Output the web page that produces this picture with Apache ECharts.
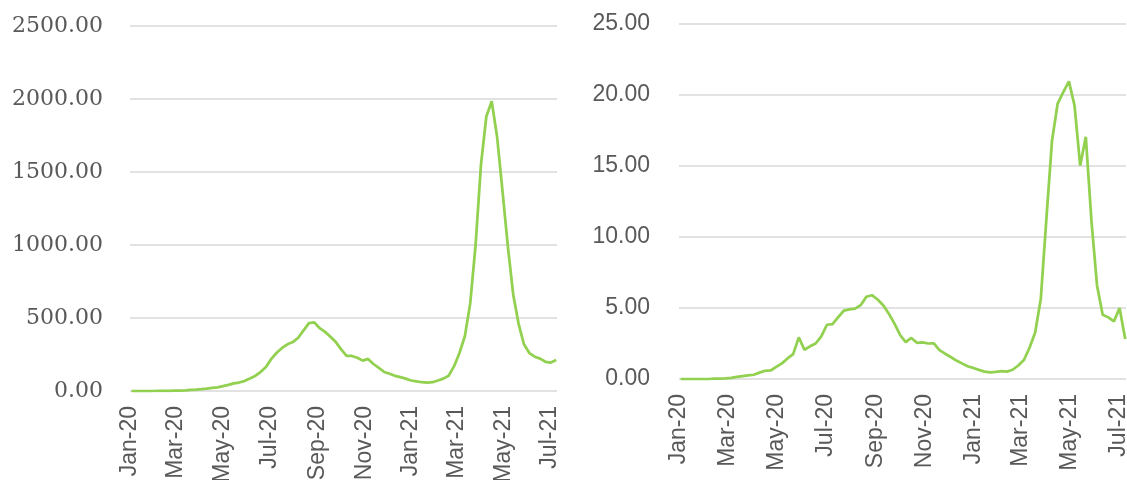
<!DOCTYPE html>
<html>
<head>
<meta charset="utf-8">
<script src="https://cdn.jsdelivr.net/npm/echarts@6/dist/echarts.min.js"></script>
<style>
  html, body { margin: 0; padding: 0; background: #fff; }
  #chart { width: 1127px; height: 480px; }
</style>
</head>
<body>
<div id="chart"></div>
<script>
// x tick labels, placed at the first day of every second month (days since 1 Jan 2020)
const tickLabels = ['Jan-20', 'Mar-20', 'May-20', 'Jul-20', 'Sep-20', 'Nov-20', 'Jan-21', 'Mar-21', 'May-21', 'Jul-21'];
const tickDays = [0, 60, 121, 182, 244, 305, 366, 425, 486, 547];

// weekly observations (day offset from 1 Jan 2020)
const weekDays = [];
for (let k = 0; k < 80; k++) weekDays.push(2 + 7 * k);

// left panel
const leftValues = [
  0, 0, 0, 0, 0, 1, 1, 1, 2, 3,
  5, 8, 10, 13, 17, 22, 25, 33, 42, 52,
  58, 68, 85, 103, 130, 165, 220, 262, 295, 320,
  335, 365, 415, 465, 470, 430, 405, 372, 335, 285,
  240, 240, 228, 208, 220, 185, 158, 130, 118, 104,
  95, 85, 72, 66, 60, 57, 60, 72, 85, 105,
  170, 260, 375, 600, 1000, 1550, 1880, 1985, 1740, 1370,
  990, 660, 460, 320, 260, 235, 222, 200, 195, 212
];
const leftTicks = [0, 500, 1000, 1500, 2000, 2500];

// right panel
const rightValues = [
  0, 0, 0, 0, 0, 0, 0.02, 0.03, 0.05, 0.08,
  0.15, 0.2, 0.25, 0.3, 0.45, 0.58, 0.6, 0.85, 1.1, 1.45,
  1.75, 2.93, 2.06, 2.3, 2.5, 3.0, 3.82, 3.87, 4.35, 4.81,
  4.9, 4.95, 5.2, 5.79, 5.9, 5.6, 5.2, 4.6, 3.9, 3.1,
  2.6, 2.89, 2.55, 2.58, 2.5, 2.51, 2.04, 1.78, 1.55, 1.3,
  1.1, 0.9, 0.78, 0.64, 0.52, 0.47, 0.5, 0.55, 0.52, 0.65,
  0.95, 1.34, 2.2, 3.28, 5.63, 11.3, 16.8, 19.4, 20.2, 20.96,
  19.25, 15.02, 17.06, 11.15, 6.57, 4.53, 4.34, 4.06, 5.0, 2.82
];
const rightTicks = [0, 5, 10, 15, 20, 25];

const lineColor = '#92d050';
const textColor = '#595959';
const gridColor = '#d9d9d9';

function xAxisFor(gridIndex, size) {
  return {
    type: 'value',
    gridIndex: gridIndex,
    min: 0,
    max: 556,
    axisLine: { show: false },
    axisTick: { show: false },
    splitLine: { show: false },
    axisLabel: {
      customValues: tickDays,
      rotate: 90,
      margin: 15,
      color: textColor,
      fontFamily: 'Liberation Sans',
      fontSize: size,
      formatter: function (v) {
        return tickLabels[tickDays.indexOf(v)];
      }
    }
  };
}

function yAxisFor(gridIndex, ticks, font, size, margin) {
  return {
    type: 'value',
    gridIndex: gridIndex,
    min: ticks[0],
    max: ticks[ticks.length - 1],
    interval: ticks[1] - ticks[0],
    axisLine: { show: false },
    axisTick: { show: false },
    splitLine: { lineStyle: { color: gridColor, width: 1.5 } },
    axisLabel: {
      color: textColor,
      fontFamily: font,
      fontSize: size,
      margin: margin,
      formatter: function (v) { return v.toFixed(2); }
    }
  };
}

function lineSeries(idx, values) {
  return {
    type: 'line',
    xAxisIndex: idx,
    yAxisIndex: idx,
    data: weekDays.map((d, i) => [d, values[i]]),
    showSymbol: false,
    lineStyle: { color: lineColor, width: 2.75 },
    itemStyle: { color: lineColor },
    animation: false
  };
}

let myChart = echarts.init(document.getElementById('chart'));
myChart.setOption({
  animation: false,
  grid: [
    { left: 130, top: 26, width: 427, height: 365, outerBoundsMode: 'none', containLabel: false },
    { left: 679, top: 24, width: 447, height: 355, outerBoundsMode: 'none', containLabel: false }
  ],
  xAxis: [xAxisFor(0, 23), xAxisFor(1, 23)],
  yAxis: [
    yAxisFor(0, leftTicks, 'DejaVu Serif', 22, 27),
    yAxisFor(1, rightTicks, 'Liberation Sans', 23, 29)
  ],
  series: [lineSeries(0, leftValues), lineSeries(1, rightValues)]
});
</script>
</body>
</html>
